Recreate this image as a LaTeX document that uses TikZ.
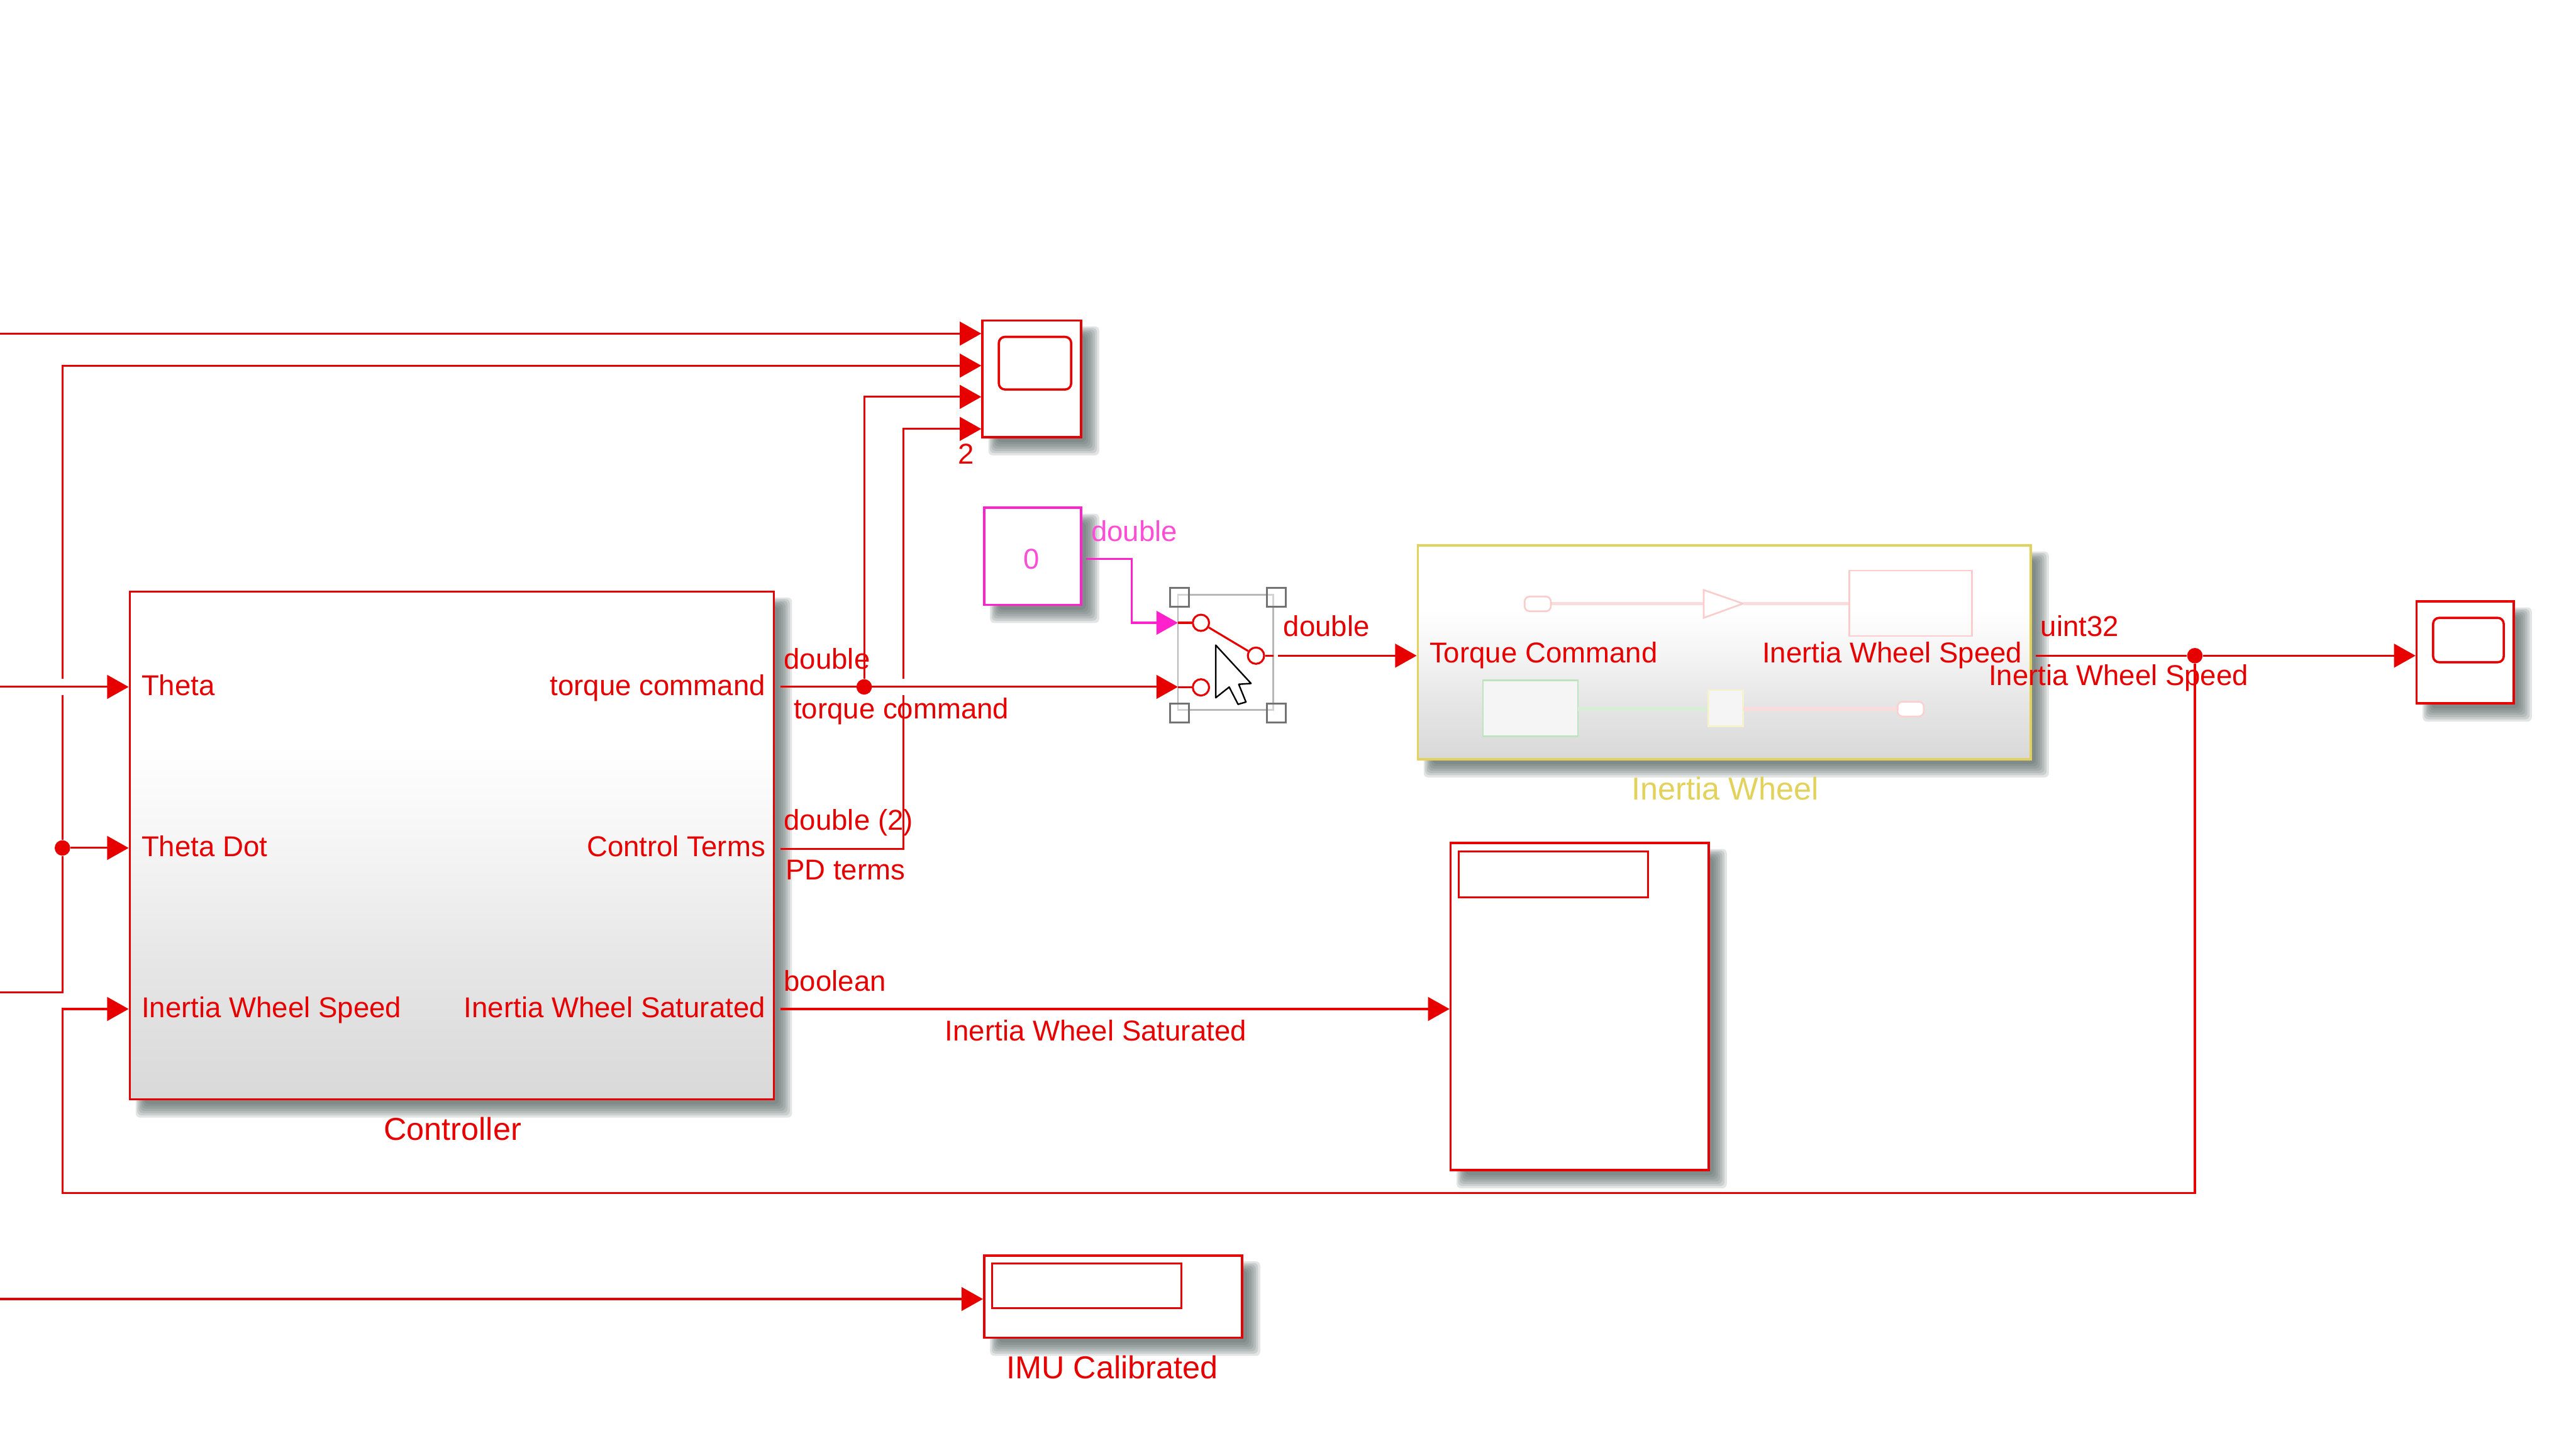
\documentclass[tikz,border=0pt]{standalone}
\usepackage{fontspec}
\setmainfont{Liberation Sans}
\usetikzlibrary{arrows.meta}
\definecolor{sred}{HTML}{E60000}
\definecolor{smag}{HTML}{FF22CC}
\definecolor{syel}{HTML}{E2D25C}
\definecolor{shad}{HTML}{4F5F5C}
\newcommand\uu{0.0382653cm}
\pgfdeclareverticalshading{blockgrad}{100bp}{rgb(0bp)=(0.85,0.85,0.85); rgb(25bp)=(0.85,0.85,0.85); rgb(38bp)=(0.90,0.90,0.90); rgb(50bp)=(0.96,0.96,0.96); rgb(60bp)=(1,1,1); rgb(100bp)=(1,1,1)}
\tikzset{
  wire/.style={draw=sred,line width=1.3pt,line join=miter},
  awire/.style={wire,-{Triangle[length=0.5cm,width=0.55cm,fill=sred]}},
  mwire/.style={draw=smag,line width=1.3pt,-{Triangle[length=0.5cm,width=0.55cm,fill=smag]}},
  lab/.style={font=\fontsize{19}{19}\selectfont,text=sred,inner sep=0pt,text height=13.6pt,text depth=0pt},
  biglab/.style={lab,font=\fontsize{21}{21}\selectfont,text height=15pt},
  lableft/.style={lab,anchor=west},
  labright/.style={lab,anchor=east},
  redblock/.style={draw=sred,line width=1.5pt,fill=white},
  grad/.style={shading=blockgrad,shading angle=0},
  screen/.style={draw=sred,line width=1.5pt,rounded corners=0.14cm,fill=white,inner sep=0pt},
  dispbox/.style={draw=sred,line width=1.2pt,fill=white,inner sep=0pt},
  dot/.style={circle,fill=sred,inner sep=0pt,minimum size=0.36cm},
  swc/.style={circle,draw=sred,line width=1.3pt,fill=white,inner sep=0pt,minimum size=0.38cm},
  handle/.style={draw=black!55,line width=1.2pt,fill=white,fill opacity=0.4,inner sep=0pt,minimum size=0.44cm},
  faint/.style={line width=1.1pt},
  faintline/.style={line width=2.2pt},
}
% name, x1, y1, x2, y2, style (shadow is layered translucent rectangles)
\newcommand\blk[6]{%
  \foreach \k in {0,...,6}{%
    \fill[shad,opacity=0.16,rounded corners=0.1cm]
      ({#2+9-\k*0.9},{#3+9-\k*0.9}) rectangle ({#4+3+\k*1.35},{#5+3+\k*1.35});
  }%
  \node[inner sep=0pt,minimum width={(#4-#2)*\uu},minimum height={(#5-#3)*\uu},#6]
    (#1) at ({(#2+#4)/2},{(#3+#5)/2}) {};%
}
\newcommand\plainbox[6]{%
  \node[inner sep=0pt,minimum width={(#4-#2)*\uu},minimum height={(#5-#3)*\uu},#6]
    (#1) at ({(#2+#4)/2},{(#3+#5)/2}) {};%
}
\begin{document}
\begin{tikzpicture}[x=0.0382653cm,y=-0.0382653cm]
\useasboundingbox (0,0) rectangle (1568,882);
\fill[white] (0,0) rectangle (1568,882);

% blocks
\blk{ctrl}{79}{360}{471}{669}{redblock,grad}
\blk{scopeA}{598}{195}{658}{266}{redblock}
\blk{const}{599}{309}{658}{368}{draw=smag,line width=1.5pt,fill=white}
\blk{wheel}{863}{332}{1236}{462}{draw=syel,line width=1.5pt,grad}
\blk{disp}{883}{513}{1040}{712}{redblock}
\blk{imu}{599}{764}{756}{814}{redblock}
\blk{scopeB}{1471}{366}{1530}{428}{redblock}

\plainbox{scrA}{608}{205}{652}{237}{screen}
\plainbox{scrB}{1481}{376}{1524}{403}{screen}
\plainbox{dispin}{888}{518}{1003}{546}{dispbox}
\plainbox{imuin}{604}{769}{719}{796}{dispbox}

% free ends and ports
\coordinate (l1) at (0,203);
\coordinate (l2) at (0,418);
\coordinate (l3) at (0,604);
\coordinate (l4) at (0,790.5);
\coordinate (j1) at (38,516);
\coordinate (j2) at (526,418);
\coordinate (j3) at (1336,399);
\coordinate (co1) at (475,418);
\coordinate (co2) at (475,516.5);
\coordinate (co3) at (475,614);
\coordinate (wo) at (1239,399);
\coordinate (ko) at (661,340);
\node[dot] (jd1) at (j1) {};
\node[dot] (jd2) at (j2) {};
\node[dot] (jd3) at (j3) {};

% connectors
\draw[awire] (l1) -- (l1 -| scopeA.west);
\draw[wire] (l3) -- (38,604) -- (jd1);
\draw[wire] (jd1) -- (38,423);
\draw[awire] (38,413) -- (38,222.5) -- (38,222.5 -| scopeA.west);
\draw[awire] (l2) -- (l2 -| ctrl.west);
\draw[awire] (jd1) -- (jd1 -| ctrl.west);
\draw[awire] (jd3) -- (1336,726) -- (38,726) -- (38,614) -- (ctrl.west |- co3);
\draw[awire] (co1) -- (717,418);
\draw[awire] (jd2) -- (526,241.5) -- (526,241.5 -| scopeA.west);
\draw[wire] (co2) -- (550,516.5) -- (550,423);
\draw[awire] (550,413) -- (550,261) -- (550,261 -| scopeA.west);
\draw[awire] (co3) -- (disp.west |- co3);
\draw[awire] (l4) -- (l4 -| imu.west);
\draw[mwire] (ko) -- (689,340) -- (689,379) -- (717,379);
\draw[awire] (778,399) -- (wheel.west |- 0,399);
\draw[wire] (wo) -- (jd3);
\draw[awire] (jd3) -- (scopeB.west |- j3);

% switch
\draw[draw=black!28,line width=1.2pt] (717,362) rectangle (775,432);
\node[swc] (sa) at (731,379) {};
\node[swc] (sb) at (764.5,399) {};
\node[swc] (sc) at (731,418.3) {};
\draw[wire] (sa) -- (sb);
\draw[wire] (717,379) -- (sa);
\draw[wire] (717,418.3) -- (sc);
\draw[wire] (sb) -- (775,399);
\node[handle] (h1) at (718,363.5) {};
\node[handle] (h2) at (777,363.5) {};
\node[handle] (h3) at (718,434) {};
\node[handle] (h4) at (777,434) {};
\draw[black,line width=1pt,fill=white,line join=round]
  (740,392.6) -- (740,424.6) -- (748.2,418.1) -- (753.6,428.6) -- (758.4,427.2) -- (754,416.4) -- (761.5,415.9) -- cycle;

% wheel icon
\draw[faintline,draw=sred!14] (944,367.3) -- (1037,367.3);
\draw[faint,draw=sred!20,fill=white,rounded corners=0.12cm] (928,363) rectangle (944,372);
\draw[faint,draw=sred!20] (1037,359) -- (1061,367.3) -- (1037,376) -- cycle;
\draw[faintline,draw=sred!14] (1061,367.3) -- (1125.7,367.3);
\draw[faint,draw=sred!20] (1125.7,347.2) rectangle (1200.4,387);
\draw[faint,draw=green!55!black!25,fill=white!96!black] (902.6,414) rectangle (960.4,448);
\draw[faintline,draw=green!55!black!16] (960.4,431.4) -- (1040,431.4);
\draw[faint,draw=syel!30,fill=white!96!black] (1040,420) rectangle (1061,442);
\draw[faintline,draw=sred!14] (1061,431.4) -- (1155,431.4);
\draw[faint,draw=sred!18,fill=white,rounded corners=0.12cm] (1155,427) rectangle (1171,436);

% labels
\node[lableft] (t1) at (86,417) {Theta};
\node[lableft] (t2) at (86,515) {Theta Dot};
\node[lableft] (t3) at (86,613) {Inertia Wheel Speed};
\node[labright] (t4) at (466,417) {torque command};
\node[labright] (t5) at (466,515) {Control Terms};
\node[labright] (t6) at (466,613) {Inertia Wheel Saturated};
\node[biglab] (t7) at (275.5,687) {Controller};
\node[lableft] (t8) at (477,401) {double};
\node[lableft] (t9) at (483,431) {torque command};
\node[lableft] (t10) at (477,499) {double (2)};
\node[lableft] (t11) at (478,529) {PD terms};
\node[lableft] (t12) at (477,597) {boolean};
\node[lab] (t13) at (667,627) {Inertia Wheel Saturated};
\node[biglab] (t14) at (677,832) {IMU Calibrated};
\node[lab] (t15) at (588,276) {2};
\node[lab,text=smag!80] (t16) at (628,340) {0};
\node[lableft,text=smag!80] (t17) at (664,323) {double};
\node[lableft] (t18) at (781,381) {double};
\node[lableft] (t19) at (870,397) {Torque Command};
\node[labright] (t20) at (1231,397) {Inertia Wheel Speed};
\node[biglab,text=syel] (t21) at (1050,480) {Inertia Wheel};
\node[lableft] (t22) at (1242,381) {uint32};
\node[lab] (t23) at (1289.5,411) {Inertia Wheel Speed};
\end{tikzpicture}
\end{document}
